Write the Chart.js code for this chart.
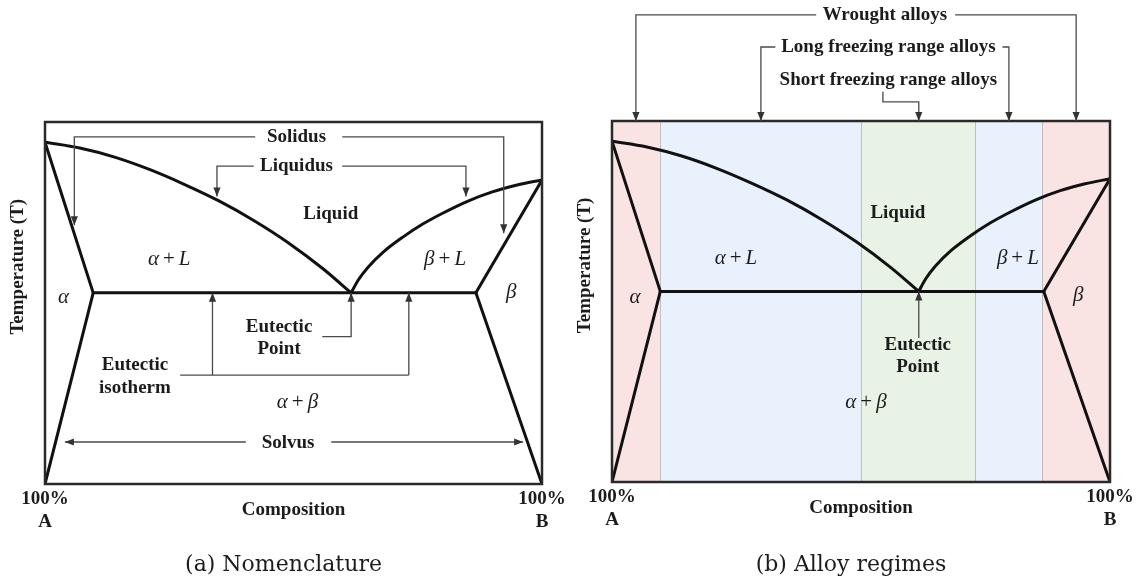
<!DOCTYPE html>
<html>
<head>
<meta charset="utf-8">
<script src="https://cdn.jsdelivr.net/npm/chart.js@4"></script>
<style>
  body { margin: 0; background: #fff; }
  #wrap { position: relative; width: 1137px; height: 579px; background: #fff; }
  canvas { position: absolute; top: 0; }
  #left { left: 0; }
  #right { left: 568px; }
</style>
</head>
<body>
<div id="wrap">
  <canvas id="left" width="568" height="579"></canvas>
  <canvas id="right" width="569" height="579"></canvas>
</div>
<script>
// phase boundaries: composition (% B) vs temperature (% of plotted range)
const liquidusA = [[0, 94.4], [7, 92.8], [14, 90.3], [21, 86.9], [28, 82.8], [35, 78.2], [42, 72.8], [49, 66.6], [56, 59.4], [61.6, 52.8]];
const liquidusB = [[61.6, 52.8], [63, 56.3], [65, 59.9], [68, 64.0], [72, 68.2], [76, 71.8], [80, 74.8], [85, 78.1], [90, 80.7], [95, 82.6], [100, 84.0]];
const solidusA = [[0, 94.4], [9.7, 52.8]];
const solidusB = [[86.7, 52.8], [100, 84.0]];
const eutecticLine = [[9.7, 52.8], [86.7, 52.8]];
const solvusA = [[0, 0], [9.7, 52.8]];
const solvusB = [[86.7, 52.8], [100, 0]];

// alloy regimes of panel (b)
const bandEdges = [0, 9.6, 50, 72.9, 86.3, 100];
const bandNames = ['wrought', 'long', 'short', 'long', 'wrought'];

// axis texts
const cornerLabels = [['100%', 'A'], ['100%', 'B']];
const xTitle = 'Composition';
const yTitle = 'Temperature (T)';
const captions = ['(a) Nomenclature', '(b) Alloy regimes'];

const bandColors = {
    wrought: 'rgb(250, 227, 227)',
    long: 'rgb(233, 241, 252)',
    short: 'rgb(232, 243, 229)'
};

// labels and leader arrows, in data units
const notesA = [
    {text: 'Solidus', at: [50.6, 95.9]},
    {text: 'Liquidus', at: [50.6, 87.8]},
    {text: 'Liquid', at: [57.5, 74.6]},
    {text: 'Eutectic', at: [47.1, 43.4]},
    {text: 'Point', at: [47.1, 37.3]},
    {text: 'Eutectic', at: [18.1, 32.9]},
    {text: 'isotherm', at: [18.1, 26.5]},
    {text: 'Solvus', at: [48.9, 11.4]},
    {math: 'α + L', at: [25, 61.9]},
    {math: 'β + L', at: [80.5, 61.9]},
    {math: 'α', at: [3.7, 51.4]},
    {math: 'β', at: [93.8, 52.8]},
    {math: 'α + β', at: [50.8, 22.4]},
    {path: [[42.3, 95.9], [5.9, 95.9], [5.9, 71.5]], arrow: true},
    {path: [[59.8, 95.9], [92.3, 95.9], [92.3, 69.3]], arrow: true},
    {path: [[42.0, 87.8], [34.6, 87.8], [34.6, 79.4]], arrow: true},
    {path: [[59.8, 87.8], [84.7, 87.8], [84.7, 79.4]], arrow: true},
    {path: [[55.8, 40.7], [61.6, 40.7], [61.6, 52.8]], arrow: true},
    {path: [[27.2, 30.1], [73.2, 30.1]]},
    {path: [[33.7, 30.1], [33.7, 52.8]], arrow: true},
    {path: [[73.2, 30.1], [73.2, 52.8]], arrow: true},
    {path: [[40.4, 11.6], [4.0, 11.6]], arrow: true},
    {path: [[57.6, 11.6], [96.2, 11.6]], arrow: true}
];

const notesB = [
    {text: 'Wrought alloys', at: [54.8, 129.4]},
    {text: 'Long freezing range alloys', at: [55.5, 120.5]},
    {text: 'Short freezing range alloys', at: [55.5, 111.4]},
    {text: 'Liquid', at: [57.4, 74.5]},
    {text: 'Eutectic', at: [61.4, 38.0]},
    {text: 'Point', at: [61.4, 31.9]},
    {math: 'α + L', at: [24.9, 62]},
    {math: 'β + L', at: [81.5, 62]},
    {math: 'α', at: [4.6, 51]},
    {math: 'β', at: [93.6, 51.8]},
    {math: 'α + β', at: [51, 21.9]},
    {path: [[41.0, 129.4], [4.8, 129.4], [4.8, 100]], arrow: true},
    {path: [[68.9, 129.4], [93.2, 129.4], [93.2, 100]], arrow: true},
    {path: [[32.8, 120.5], [29.9, 120.5], [29.9, 100]], arrow: true},
    {path: [[78.4, 120.5], [79.7, 120.5], [79.7, 100]], arrow: true},
    {path: [[54.4, 108.1], [54.4, 105.3], [61.6, 105.3], [61.6, 100]], arrow: true},
    {path: [[61.6, 39.9], [61.6, 52.8]], arrow: true}
];

const boldFont = "bold 19px 'Liberation Serif'";
const textColor = '#1c1c1c';

function drawArrowHead(ctx, from, to) {
    const ang = Math.atan2(to[1] - from[1], to[0] - from[0]);
    ctx.save();
    ctx.translate(to[0], to[1]);
    ctx.rotate(ang);
    ctx.beginPath();
    ctx.moveTo(0, 0);
    ctx.lineTo(-9, -3.6);
    ctx.lineTo(-9, 3.6);
    ctx.closePath();
    ctx.fill();
    ctx.restore();
}

function drawMath(ctx, str, cx, cy) {
    const tokens = str.split(' ');
    const fonts = tokens.map(t => t === '+' ? "21px 'Liberation Serif'" : "italic 21px 'Liberation Serif'");
    const gap = 4;
    let widths = tokens.map((t, i) => { ctx.font = fonts[i]; return ctx.measureText(t).width; });
    let total = widths.reduce((s, w) => s + w, 0) + gap * (tokens.length - 1);
    let x = cx - total / 2;
    ctx.textAlign = 'left';
    tokens.forEach((t, i) => {
        ctx.font = fonts[i];
        ctx.fillText(t, x, cy);
        x += widths[i] + gap;
    });
}

const diagramPlugin = {
    id: 'diagram',
    beforeDatasetsDraw(chart, args, opts) {
        if (!opts.bands) return;
        const {ctx, chartArea: a, scales: {x}} = chart;
        ctx.save();
        for (let i = 0; i < bandNames.length; i++) {
            const x0 = x.getPixelForValue(bandEdges[i]);
            const x1 = x.getPixelForValue(bandEdges[i + 1]);
            ctx.fillStyle = bandColors[bandNames[i]];
            ctx.fillRect(x0, a.top, x1 - x0, a.bottom - a.top);
        }
        ctx.strokeStyle = 'rgba(150, 150, 150, 0.55)';
        ctx.lineWidth = 1;
        for (let i = 1; i < bandEdges.length - 1; i++) {
            const px = Math.round(x.getPixelForValue(bandEdges[i])) + 0.5;
            ctx.beginPath();
            ctx.moveTo(px, a.top);
            ctx.lineTo(px, a.bottom);
            ctx.stroke();
        }
        ctx.restore();
    },
    afterDatasetsDraw(chart, args, opts) {
        const {ctx, chartArea: a, scales: {x, y}} = chart;
        const P = ([u, v]) => [x.getPixelForValue(u), y.getPixelForValue(v)];
        ctx.save();
        // frame
        ctx.strokeStyle = '#2a2a2a';
        ctx.lineWidth = 2.5;
        ctx.strokeRect(a.left, a.top, a.right - a.left, a.bottom - a.top);

        ctx.fillStyle = textColor;
        ctx.textBaseline = 'middle';
        opts.notes.forEach(n => {
            if (n.path) {
                const pts = n.path.map(P);
                ctx.strokeStyle = '#4a4a4a';
                ctx.fillStyle = '#333';
                ctx.lineWidth = 1.3;
                ctx.beginPath();
                pts.forEach((p, i) => i ? ctx.lineTo(p[0], p[1]) : ctx.moveTo(p[0], p[1]));
                ctx.stroke();
                if (n.arrow) drawArrowHead(ctx, pts[pts.length - 2], pts[pts.length - 1]);
                ctx.fillStyle = textColor;
            } else if (n.text) {
                const [px, py] = P(n.at);
                ctx.font = boldFont;
                ctx.textAlign = 'center';
                ctx.fillText(n.text, px, py);
            } else if (n.math) {
                const [px, py] = P(n.at);
                drawMath(ctx, n.math, px, py);
            }
        });
        ctx.restore();
    },
    afterDraw(chart, args, opts) {
        const {ctx, chartArea: a} = chart;
        ctx.save();
        ctx.fillStyle = textColor;
        ctx.textBaseline = 'middle';
        ctx.textAlign = 'center';
        ctx.font = boldFont;
        [a.left, a.right].forEach((px, i) => {
            ctx.fillText(cornerLabels[i][0], px, a.bottom + 15);
            ctx.fillText(cornerLabels[i][1], px, a.bottom + 38);
        });
        const mid = (a.left + a.right) / 2;
        ctx.fillText(xTitle, mid, a.bottom + 26);
        ctx.save();
        ctx.translate(a.left - 27, a.top + 0.4 * (a.bottom - a.top));
        ctx.rotate(-Math.PI / 2);
        ctx.fillText(yTitle, 0, 0);
        ctx.restore();
        ctx.font = "22px 'DejaVu Serif'";
        ctx.fillText(opts.caption, mid - 10, chart.height - 14);
        ctx.restore();
    }
};

function phaseDatasets() {
    return [liquidusA, liquidusB, solidusA, solidusB, eutecticLine, solvusA, solvusB].map((d, i) => ({
        data: d.map(([u, v]) => ({x: u, y: v})),
        showLine: true,
        pointRadius: 0,
        borderColor: '#111',
        borderWidth: 3,
        borderCapStyle: 'round',
        cubicInterpolationMode: i < 2 ? 'monotone' : 'default',
        tension: 0
    }));
}

function makePanel(id, padding, notes, caption, bands) {
    return new Chart(document.getElementById(id), {
        type: 'scatter',
        data: {datasets: phaseDatasets()},
        options: {
            responsive: false,
            devicePixelRatio: 1,
            animation: false,
            events: [],
            layout: {padding: padding},
            scales: {
                x: {type: 'linear', min: 0, max: 100, display: false},
                y: {type: 'linear', min: 0, max: 100, display: false}
            },
            plugins: {
                legend: {display: false},
                tooltip: {enabled: false},
                diagram: {notes: notes, caption: caption, bands: bands}
            }
        },
        plugins: [diagramPlugin]
    });
}

makePanel('left', {left: 45, right: 26, top: 122, bottom: 95}, notesA, captions[0], false);
makePanel('right', {left: 44, right: 27, top: 121, bottom: 97}, notesB, captions[1], true);
</script>
</body>
</html>
